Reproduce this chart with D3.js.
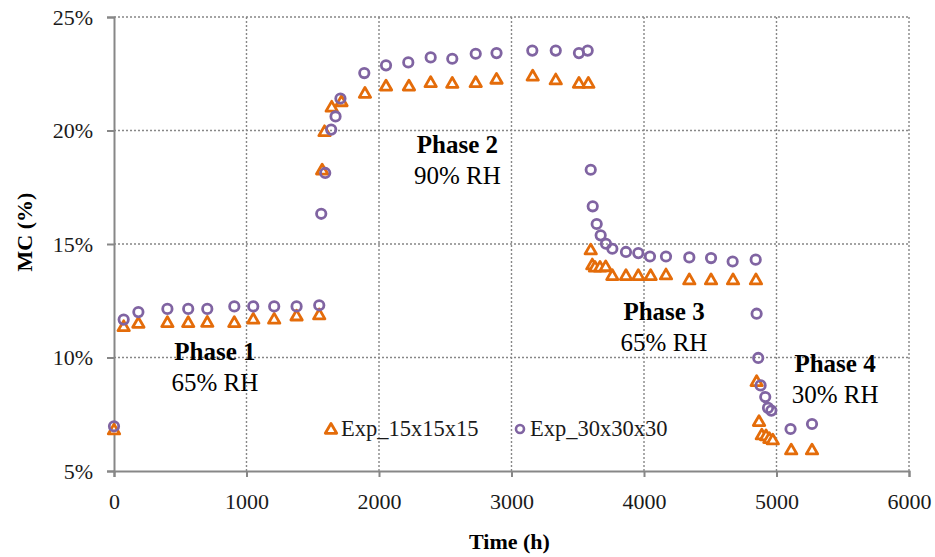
<!DOCTYPE html>
<html>
<head>
<meta charset="utf-8">
<script src="https://cdn.jsdelivr.net/npm/d3@7"></script>
<style>
  body { margin: 0; background: #fff; }
  svg { display: block; font-family: "Liberation Serif", "Times New Roman", serif; }
</style>
</head>
<body>
<div id="chart"></div>
<script>
// Exp_15x15x15 (orange triangles)
var triTime = [0, 73, 184, 403, 560, 704, 908, 1051, 1209, 1378, 1549,
  1571, 1589, 1643, 1717, 1894, 2053, 2226, 2390, 2553, 2730, 2887, 3160, 3334, 3509, 3580,
  3598, 3610, 3630, 3668, 3711, 3761, 3864, 3957, 4050, 4166, 4342, 4506, 4672, 4845,
  4850, 4868, 4889, 4921, 4946, 4972, 5111, 5268];
var triMC = [6.82, 11.37, 11.52, 11.55, 11.55, 11.56, 11.55, 11.70, 11.70, 11.84, 11.89,
  18.27, 19.96, 21.04, 21.28, 21.65, 21.97, 21.97, 22.12, 22.09, 22.12, 22.27, 22.41, 22.24, 22.09, 22.09,
  14.75, 14.09, 13.99, 13.99, 14.01, 13.62, 13.62, 13.62, 13.62, 13.65, 13.43, 13.43, 13.43, 13.43,
  8.95, 7.19, 6.60, 6.56, 6.44, 6.38, 5.94, 5.94];

// Exp_30x30x30 (purple circles)
var circTime = [0, 73, 184, 403, 560, 704, 908, 1051, 1209, 1378, 1549,
  1564, 1594, 1639, 1672, 1709, 1889, 2053, 2221, 2390, 2553, 2730, 2887, 3157, 3334, 3509, 3575,
  3598, 3613, 3643, 3673, 3713, 3761, 3864, 3957, 4045, 4166, 4342, 4506, 4669, 4843,
  4850, 4862, 4880, 4915, 4936, 4961, 5106, 5268];
var circMC = [6.97, 11.67, 12.0, 12.14, 12.14, 12.14, 12.25, 12.25, 12.25, 12.25, 12.3,
  16.33, 18.13, 20.04, 20.62, 21.41, 22.53, 22.87, 23.0, 23.22, 23.16, 23.38, 23.41, 23.52, 23.52, 23.41, 23.52,
  18.27, 16.66, 15.88, 15.38, 15.01, 14.79, 14.65, 14.6, 14.45, 14.45, 14.41, 14.38, 14.23, 14.31,
  11.93, 9.98, 8.77, 8.26, 7.78, 7.66, 6.85, 7.07];

var seriesNames = ["Exp_15x15x15", "Exp_30x30x30"];
var xTicks = [0, 1000, 2000, 3000, 4000, 5000, 6000];
var yTicks = [5, 10, 15, 20, 25];

// phase annotations: [time, MC] of the bold line's baseline
var phaseTitles = ["Phase 1", "Phase 2", "Phase 3", "Phase 4"];
var phaseRH = ["65% RH", "90% RH", "65% RH", "30% RH"];
var phaseTime = [762, 2592, 4151, 5442];
var phaseMC = [9.9, 19.02, 11.67, 9.36];

var Chart = (function() {

  var W = 935, H = 557;
  var m = { l: 114, r: 26, t: 17, b: 86 };
  var orange = "#e46c0a", purple = "#8064a2", axisGrey = "#878787";

  var x = d3.scaleLinear().domain([0, 6000]).range([m.l, W - m.r]);
  var y = d3.scaleLinear().domain([5, 25]).range([H - m.b, m.t]);

  var tri = d3.symbol().type(d3.symbolTriangle).size(56);

  var draw = function(selector) {
    var svg = d3.select(selector).append("svg")
      .attr("width", W)
      .attr("height", H);

    // dotted grid
    svg.append("g").selectAll("line")
      .data(xTicks.slice(1))
      .enter()
      .append("line")
      .attr("x1", function (d) { return x(d); })
      .attr("x2", function (d) { return x(d); })
      .attr("y1", y(25))
      .attr("y2", y(5))
      .attr("stroke", axisGrey)
      .attr("stroke-width", 1.4)
      .attr("stroke-dasharray", "2,2");

    svg.append("g").selectAll("line")
      .data(yTicks.slice(1))
      .enter()
      .append("line")
      .attr("x1", x(0))
      .attr("x2", x(6000))
      .attr("y1", function (d) { return y(d); })
      .attr("y2", function (d) { return y(d); })
      .attr("stroke", axisGrey)
      .attr("stroke-width", 1.4)
      .attr("stroke-dasharray", "2,2");

    // axes
    var xAxis = svg.append("g")
      .attr("transform", "translate(0," + y(5) + ")")
      .call(d3.axisBottom(x).tickValues(xTicks).tickSize(6).tickPadding(12)
        .tickFormat(d3.format("d")));
    var yAxis = svg.append("g")
      .attr("transform", "translate(" + x(0) + ",0)")
      .call(d3.axisLeft(y).tickValues(yTicks).tickSize(7).tickPadding(14)
        .tickFormat(function (d) { return d + "%"; }));

    [xAxis, yAxis].forEach(function (a) {
      a.attr("font-family", null).attr("font-size", null);
      a.select(".domain").attr("stroke", axisGrey).attr("stroke-width", 2);
      a.selectAll(".tick line").attr("stroke", axisGrey).attr("stroke-width", 2);
      a.selectAll(".tick text")
        .attr("font-size", 22)
        .attr("fill", "#1a1a1a");
    });
    xAxis.selectAll(".tick text").attr("dy", "0.9em");

    // axis titles
    svg.append("text")
      .attr("x", x(3000) - 2)
      .attr("y", 549)
      .attr("text-anchor", "middle")
      .attr("font-weight", "bold")
      .attr("font-size", 22)
      .text("Time (h)");
    svg.append("text")
      .attr("transform", "translate(32," + 232 + ") rotate(-90)")
      .attr("text-anchor", "middle")
      .attr("font-weight", "bold")
      .attr("font-size", 22)
      .text("MC (%)");

    // series: triangles first, circles on top
    svg.append("g").selectAll("path")
      .data(d3.zip(triTime, triMC))
      .enter()
      .append("path")
      .attr("d", tri)
      .attr("transform", function (d) { return "translate(" + x(d[0]) + "," + (y(d[1]) + 1) + ")"; })
      .attr("fill", "#fff")
      .attr("stroke", orange)
      .attr("stroke-width", 2.8)
      .attr("stroke-linejoin", "round");

    svg.append("g").selectAll("circle")
      .data(d3.zip(circTime, circMC))
      .enter()
      .append("circle")
      .attr("cx", function (d) { return x(d[0]); })
      .attr("cy", function (d) { return y(d[1]); })
      .attr("r", 4.7)
      .attr("fill", "none")
      .attr("stroke", purple)
      .attr("stroke-width", 2.8);

    // phase labels
    var ph = svg.append("g").selectAll("g")
      .data(d3.range(phaseTitles.length))
      .enter()
      .append("g");
    ph.append("text")
      .attr("x", function (i) { return x(phaseTime[i]); })
      .attr("y", function (i) { return y(phaseMC[i]); })
      .attr("text-anchor", "middle")
      .attr("font-weight", "bold")
      .attr("font-size", 25)
      .text(function (i) { return phaseTitles[i]; });
    ph.append("text")
      .attr("x", function (i) { return x(phaseTime[i]); })
      .attr("y", function (i) { return y(phaseMC[i]) + 31; })
      .attr("text-anchor", "middle")
      .attr("font-size", 25)
      .text(function (i) { return phaseRH[i]; });

    // legend
    var leg = svg.append("g").attr("transform", "translate(331,429)");
    leg.append("path")
      .attr("d", tri)
      .attr("transform", "translate(0,1)")
      .attr("fill", "#fff")
      .attr("stroke", orange)
      .attr("stroke-width", 2.8)
      .attr("stroke-linejoin", "round");
    leg.append("circle")
      .attr("cx", 189)
      .attr("cy", 0)
      .attr("r", 4)
      .attr("fill", "none")
      .attr("stroke", purple)
      .attr("stroke-width", 2.6);
    leg.selectAll("text")
      .data(seriesNames)
      .enter()
      .append("text")
      .attr("x", function (d, i) { return i === 0 ? 10 : 199; })
      .attr("y", 7)
      .attr("font-size", 22.5)
      .attr("fill", "#1a1a1a")
      .text(function (d) { return d; });
  };

  return { draw: draw };
})();

Chart.draw("#chart");
</script>
</body>
</html>
